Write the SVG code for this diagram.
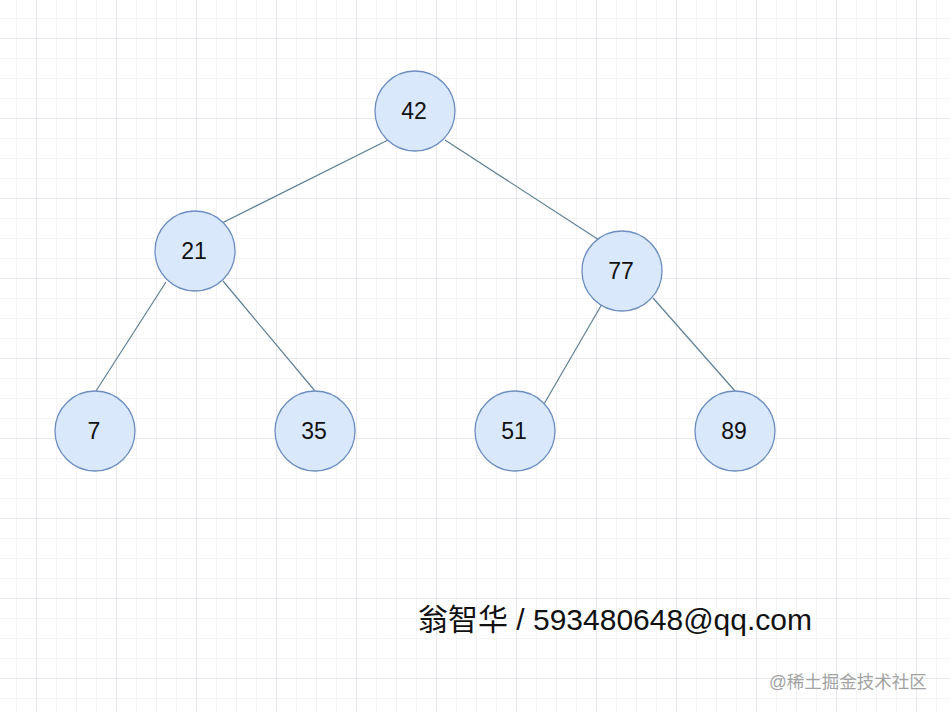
<svg xmlns="http://www.w3.org/2000/svg" width="950" height="712" viewBox="0 0 950 712">
<defs>
<pattern id="minor" x="16" y="18" width="20" height="20" patternUnits="userSpaceOnUse">
<path d="M0 0V20M0 0H20" fill="none" stroke="#e9e9f0" stroke-width="1"/>
</pattern>
<pattern id="major" x="36" y="38" width="80" height="80" patternUnits="userSpaceOnUse">
<path d="M0 0V80M0 0H80" fill="none" stroke="#dcdce4" stroke-width="1"/>
</pattern>
<style>
.node circle{fill:#dae8fc;stroke:#6c8ebf;stroke-width:1.3}
.node text{font-family:"Liberation Sans",Arial,sans-serif;font-size:23px;fill:#111;text-anchor:middle;dominant-baseline:central}
.edge{stroke:#5f7f95;stroke-width:1.2;fill:none}
</style>
</defs>
<rect width="950" height="712" fill="#ffffff"/>
<rect width="950" height="712" fill="url(#minor)"/>
<rect width="950" height="712" fill="url(#major)"/>
<g id="edges">
<line class="edge" x1="388" y1="140" x2="222" y2="223"/>
<line class="edge" x1="445" y1="140" x2="599" y2="240"/>
<line class="edge" x1="166" y1="282" x2="96" y2="391"/>
<line class="edge" x1="223" y1="281" x2="315" y2="391"/>
<line class="edge" x1="602" y1="304" x2="544" y2="404"/>
<line class="edge" x1="653" y1="298" x2="735" y2="391"/>
</g>
<g id="n42" class="node"><circle cx="415" cy="111" r="40"/><text x="414" y="111">42</text></g>
<g id="n21" class="node"><circle cx="195" cy="251" r="40"/><text x="194" y="251">21</text></g>
<g id="n77" class="node"><circle cx="622" cy="271" r="40"/><text x="621" y="271">77</text></g>
<g id="n7" class="node"><circle cx="95" cy="431" r="40"/><text x="94" y="431">7</text></g>
<g id="n35" class="node"><circle cx="315" cy="431" r="40"/><text x="314" y="431">35</text></g>
<g id="n51" class="node"><circle cx="515" cy="431" r="40"/><text x="514" y="431">51</text></g>
<g id="n89" class="node"><circle cx="735" cy="431" r="40"/><text x="734" y="431">89</text></g>
<text x="418" y="630" font-family="'Liberation Sans','Noto Sans CJK SC',sans-serif" font-size="30" fill="#111">翁智华 / 593480648@qq.com</text>
<text x="769" y="688" font-family="'Liberation Sans','Noto Sans CJK SC',sans-serif" font-size="17.5" fill="#a3a3a3">@稀土掘金技术社区</text>
</svg>
